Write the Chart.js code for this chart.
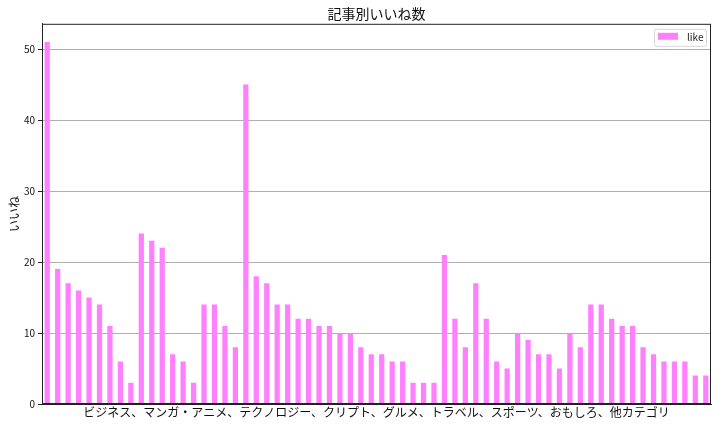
<!DOCTYPE html>
<html>
<head>
<meta charset="utf-8">
<script src="https://cdn.jsdelivr.net/npm/chart.js@4"></script>
<style>
  body { margin: 0; background: #fff; }
</style>
</head>
<body>
<canvas id="myChart" width="722" height="427"></canvas>
<script>
// likes per article, in the original order
const likes = [
  51, 19, 17, 16, 15, 14, 11, 6, 3,
  24, 23, 22, 7, 6, 3, 14, 14, 11, 8,
  45, 18, 17, 14, 14, 12, 12, 11, 11, 10, 10, 8, 7, 7, 6, 6, 3, 3, 3,
  21, 12, 8, 17, 12, 6, 5, 10, 9, 7, 7, 5, 10, 8, 14, 14, 12, 11, 11, 8, 7, 6, 6, 6, 4, 4
]
const articles = likes.map((_, i) => String(i))
const seriesName = 'like'
const chartTitle = '記事別いいね数'
const xTitle = 'ビジネス、マンガ・アニメ、テクノロジー、クリプト、グルメ、トラベル、スポーツ、おもしろ、他カテゴリ'
const yTitle = 'いいね'
const yTicks = [0, 10, 20, 30, 40, 50]

const font = '"Noto Sans CJK JP", "DejaVu Sans", sans-serif'
const barColor = 'rgb(255,128,255)'

// frame around the plot + legend box in the top right corner
const framePlugin = {
  id: 'frame',
  afterDraw(chart) {
    const {ctx, chartArea: a} = chart
    ctx.save()
    ctx.strokeStyle = '#222'
    ctx.lineWidth = 1
    ctx.strokeRect(a.left + 0.5, a.top + 0.5, a.right - a.left - 1, a.bottom - a.top - 1)

    const ds = chart.data.datasets[0]
    const bx = a.right - 57, by = a.top + 5, bw = 52, bh = 17
    ctx.fillStyle = 'rgba(255,255,255,0.8)'
    ctx.strokeStyle = '#d6d6d6'
    ctx.beginPath()
    ctx.roundRect(bx + 0.5, by + 0.5, bw, bh, 2)
    ctx.fill()
    ctx.stroke()
    ctx.fillStyle = ds.backgroundColor
    ctx.fillRect(bx + 4, by + 4, 20, 7)
    ctx.fillStyle = '#222'
    ctx.font = '10px ' + font
    ctx.textBaseline = 'middle'
    ctx.fillText(ds.label, bx + 33, by + 8)
    ctx.restore()
  }
}

const data = {
  labels: articles,
  datasets: [{
    label: seriesName,
    data: likes,
    backgroundColor: barColor,
    categoryPercentage: 1,
    barPercentage: 0.5
  }]
}

const config = {
  type: 'bar',
  data,
  options: {
    responsive: false,
    animation: false,
    layout: { padding: { left: 0, right: 11, top: 0, bottom: 0 } },
    plugins: {
      legend: { display: false },
      tooltip: { enabled: false },
      title: {
        display: true,
        fullSize: false,
        text: chartTitle,
        color: '#111',
        font: { family: font, size: 14, weight: 'normal' },
        padding: { top: 5, bottom: 2 }
      }
    },
    scales: {
      x: {
        offset: true,
        grid: { display: false },
        ticks: { display: false },
        border: { display: true, color: '#222' },
        title: {
          display: true,
          text: xTitle,
          color: '#111',
          font: { family: font, size: 12 },
          padding: { top: 0, bottom: 7 }
        },
        afterFit: s => { s.height = 23 }
      },
      y: {
        min: 0,
        max: 53.55,
        afterBuildTicks: s => { s.ticks = yTicks.map(v => ({ value: v })) },
        ticks: {
          color: '#111',
          font: { family: font, size: 10 },
          padding: 3
        },
        grid: { color: '#b0b0b0', tickColor: '#222', tickLength: 4 },
        border: { display: true, color: '#222' },
        title: {
          display: true,
          text: yTitle,
          color: '#111',
          font: { family: font, size: 12 },
          padding: { top: 7, bottom: 0 }
        },
        afterFit: s => { s.width = 42 }
      }
    }
  },
  plugins: [framePlugin]
}

const myChart = new Chart(document.getElementById('myChart'), config)
</script>
</body>
</html>
